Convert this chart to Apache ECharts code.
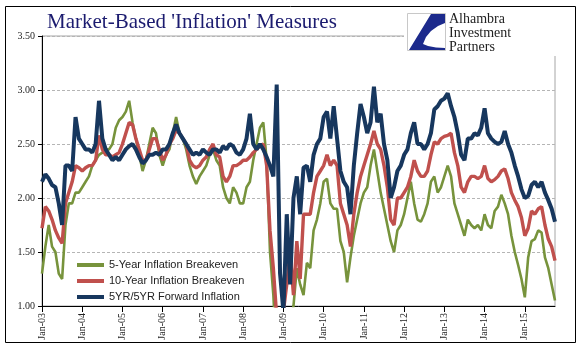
<!DOCTYPE html>
<html><head><meta charset="utf-8">
<script src="https://cdn.jsdelivr.net/npm/echarts@6/dist/echarts.min.js"></script>
<style>html,body{margin:0;padding:0;background:#fff}#c{width:581px;height:361px}</style>
</head><body><div id="c"></div>
<script>
// Tick labels for each January
const yearLabels = ["Jan-03","Jan-04","Jan-05","Jan-06","Jan-07","Jan-08","Jan-09","Jan-10","Jan-11","Jan-12","Jan-13","Jan-14","Jan-15"];
const yTickValues = [1.0, 1.5, 2.0, 2.5, 3.0, 3.5];
const seriesNames = ["5-Year Inflation Breakeven","10-Year Inflation Breakeven","5YR/5YR Forward Inflation"];

// Monthly readings, Jan-03 .. Oct-15
const fiveYear = [
1.30,1.55,1.75,1.55,1.50,1.30,1.25,1.75,1.95,1.95,2.05,2.05,
2.10,2.15,2.20,2.30,2.35,2.40,2.42,2.45,2.45,2.50,2.65,2.72,
2.75,2.80,2.90,2.70,2.55,2.40,2.25,2.35,2.50,2.65,2.60,2.40,
2.30,2.40,2.45,2.60,2.75,2.60,2.55,2.45,2.30,2.20,2.13,2.20,
2.25,2.30,2.40,2.45,2.35,2.30,2.10,2.00,1.95,2.10,2.05,1.95,
1.95,2.10,2.15,2.35,2.50,2.65,2.70,2.35,1.50,1.10,0.50,0.20,
0.30,0.50,0.80,1.00,1.35,1.20,1.10,1.40,1.35,1.70,1.80,1.95,
2.15,2.18,1.95,1.90,1.90,1.60,1.50,1.22,1.45,1.65,1.80,1.95,
2.05,2.10,2.30,2.45,2.25,2.05,1.90,1.75,1.60,1.50,1.70,1.75,
1.85,2.00,2.15,1.95,1.80,1.78,1.85,1.95,2.15,2.20,2.05,2.10,
2.20,2.30,2.20,1.95,1.85,1.75,1.65,1.80,1.75,1.72,1.75,1.70,
1.85,1.75,1.72,1.88,1.92,2.03,1.95,1.85,1.65,1.50,1.38,1.25,
1.08,1.45,1.60,1.62,1.70,1.68,1.45,1.35,1.20,1.05
];
const tenYear = [
1.72,1.92,1.88,1.80,1.70,1.63,1.58,1.95,2.05,2.15,2.30,2.28,
2.25,2.28,2.30,2.30,2.35,2.58,2.45,2.40,2.40,2.38,2.40,2.42,
2.50,2.60,2.70,2.68,2.55,2.45,2.35,2.35,2.45,2.55,2.55,2.45,
2.35,2.40,2.50,2.55,2.63,2.60,2.55,2.50,2.35,2.30,2.28,2.30,
2.35,2.38,2.45,2.50,2.40,2.38,2.20,2.15,2.20,2.30,2.30,2.32,
2.35,2.35,2.38,2.42,2.45,2.48,2.50,2.30,1.70,1.35,0.90,0.80,
0.95,1.20,1.50,1.10,1.60,1.25,1.85,1.85,1.85,2.05,2.20,2.25,
2.30,2.40,2.30,2.35,2.30,1.95,1.85,1.75,1.55,1.85,2.05,2.20,
2.30,2.40,2.50,2.62,2.50,2.45,2.30,2.10,1.80,1.75,2.00,2.00,
2.05,2.10,2.20,2.35,2.25,2.20,2.20,2.25,2.40,2.52,2.50,2.55,
2.57,2.58,2.60,2.42,2.30,2.10,2.05,2.15,2.20,2.20,2.18,2.20,
2.30,2.18,2.15,2.17,2.20,2.25,2.27,2.18,2.05,1.98,1.92,1.82,
1.65,1.72,1.88,1.85,1.90,1.92,1.75,1.62,1.55,1.42
];
const fwd5y5y = [
2.15,2.22,2.18,2.12,2.10,1.95,1.75,2.30,2.30,2.25,2.75,2.55,
2.50,2.45,2.45,2.42,2.50,2.90,2.55,2.45,2.40,2.35,2.38,2.35,
2.40,2.45,2.48,2.50,2.45,2.38,2.32,2.35,2.40,2.40,2.42,2.40,
2.45,2.45,2.50,2.60,2.68,2.60,2.55,2.50,2.45,2.40,2.42,2.40,
2.45,2.42,2.40,2.45,2.45,2.42,2.48,2.45,2.50,2.48,2.42,2.40,
2.45,2.55,2.78,2.50,2.45,2.50,2.45,2.38,2.30,2.20,3.05,1.30,
0.95,1.85,1.20,2.00,2.20,1.85,2.28,2.30,2.15,2.40,2.50,2.55,
2.75,2.80,2.55,2.85,2.55,2.25,2.15,2.10,1.85,2.30,2.60,2.87,
2.75,2.60,2.70,3.03,2.70,2.78,2.50,2.35,2.00,2.10,2.25,2.30,
2.40,2.45,2.60,2.70,2.50,2.50,2.45,2.50,2.60,2.82,2.85,2.90,
2.92,2.97,2.85,2.75,2.60,2.40,2.35,2.55,2.55,2.60,2.58,2.65,
2.83,2.60,2.55,2.52,2.50,2.52,2.62,2.50,2.42,2.30,2.20,2.08,
2.00,2.02,2.12,2.15,2.10,2.15,2.05,1.98,1.90,1.78
];

const categories = fiveYear.map((_, i) => yearLabels[Math.floor(i / 12)] + "/" + (i % 12 + 1));
const isJan = (i) => i % 12 === 0;

const chart = echarts.init(document.getElementById('c'), null, {renderer: 'canvas'});
const serif = "'Liberation Serif', 'DejaVu Serif', serif";
const sans = "'Liberation Sans', Arial, sans-serif";
const colors = ['#77933C', '#C0504D', '#17375E'];

chart.setOption({
  animation: false,
  backgroundColor: '#fff',
  title: {
    text: "Market-Based 'Inflation' Measures",
    left: 47, top: 12, padding: 0,
    textStyle: {fontFamily: serif, fontSize: 21, fontWeight: 'normal', color: '#1b1b6f'}
  },
  grid: {left: 42, top: 36, right: 26, bottom: 55, show: true, borderColor: '#a6a6a6', borderWidth: 1, backgroundColor: 'transparent'},
  legend: {
    orient: 'vertical', left: 72, top: 252, itemWidth: 27, itemHeight: 4, itemGap: 0,
    icon: 'rect',
    data: seriesNames,
    textStyle: {fontFamily: sans, fontSize: 11, color: '#222', lineHeight: 16, height: 16}
  },
  xAxis: {
    type: 'category', data: categories, boundaryGap: false,
    axisLine: {lineStyle: {color: '#000', width: 1}},
    axisTick: {show: true, interval: (i) => isJan(i), length: 6, lineStyle: {color: '#000'}},
    axisLabel: {interval: (i) => isJan(i), rotate: 90, margin: 7, fontFamily: serif, fontSize: 10, color: '#222',
      formatter: (v, i) => isJan(i) ? yearLabels[i / 12] : ''},
    splitLine: {show: false}
  },
  yAxis: {
    type: 'value', min: yTickValues[0], max: yTickValues[yTickValues.length - 1], interval: 0.5,
    axisLine: {show: true, lineStyle: {color: '#000', width: 1}},
    axisTick: {show: true, length: 4, lineStyle: {color: '#000'}},
    axisLabel: {fontFamily: serif, fontSize: 10, color: '#222', margin: 7, formatter: (v) => v.toFixed(2)},
    splitLine: {show: true, lineStyle: {color: '#b5b5b5', type: [3, 2], width: 1}}
  },
  series: [
    {name: seriesNames[0], type: 'line', data: fiveYear, symbol: 'none', clip: true,
      lineStyle: {color: colors[0], width: 2.6}, itemStyle: {color: colors[0]}, z: 2},
    {name: seriesNames[1], type: 'line', data: tenYear, symbol: 'none', clip: true,
      lineStyle: {color: colors[1], width: 3.4}, itemStyle: {color: colors[1]}, z: 3},
    {name: seriesNames[2], type: 'line', data: fwd5y5y, symbol: 'none', clip: true,
      lineStyle: {color: colors[2], width: 4}, itemStyle: {color: colors[2]}, z: 4}
  ],
  graphic: [
    {type: 'rect', shape: {x: 5.5, y: 6.5, width: 570, height: 336}, style: {fill: 'none', stroke: '#000', lineWidth: 1}, z: 100},
    {type: 'rect', shape: {x: 404, y: 9, width: 170, height: 47}, style: {fill: '#fff'}, z: 101},
    {type: 'rect', shape: {x: 407.5, y: 13.5, width: 38, height: 37}, style: {fill: '#fff', stroke: '#c8c8c8', lineWidth: 1}, z: 102},
    {type: 'polygon', shape: {points: [[431,14],[445,14],[445,23],[438,26],[431,31],[426,37],[423,44],[428,46],[436,47.5],[445,48],[445,50],[409,50]]},
      style: {fill: '#1c2a8c'}, z: 103},
    {type: 'text', x: 449, y: 12, style: {text: 'Alhambra', font: "14px 'Liberation Serif'", fill: '#222'}, z: 103},
    {type: 'text', x: 449, y: 26, style: {text: 'Investment', font: "14px 'Liberation Serif'", fill: '#222'}, z: 103},
    {type: 'text', x: 449, y: 40, style: {text: 'Partners', font: "14px 'Liberation Serif'", fill: '#222'}, z: 103}
  ]
});
</script>
</body></html>
